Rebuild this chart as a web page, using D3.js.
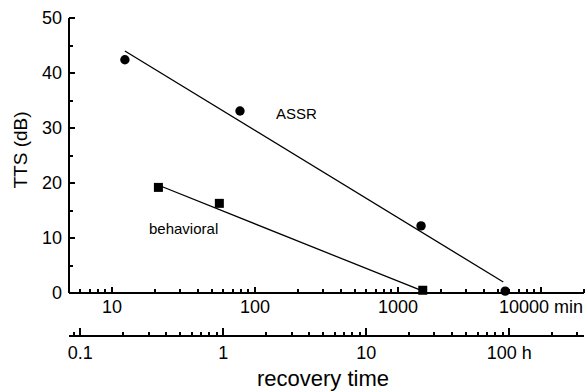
<!DOCTYPE html>
<html>
<head>
<meta charset="utf-8">
<script src="https://cdn.jsdelivr.net/npm/d3@7"></script>
<style>
  body { margin: 0; background: #fff; }
  svg text { font-family: "Liberation Sans", Arial, sans-serif; fill: #000; }
</style>
</head>
<body>
<svg id="chart" width="587" height="392"></svg>
<script>
// recovery time in minutes, TTS in dB
const assrTime = [12.3, 78.5, 1450, 5620];
const assrTTS = [42.4, 33.1, 12.2, 0.35];
const behavTime = [21.1, 56.3, 1490];
const behavTTS = [19.2, 16.3, 0.5];

// regression lines (end points)
const assrFitTime = [12.3, 5450];
const assrFitTTS = [44.0, 2.0];
const behavFitTime = [21.6, 1410];
const behavFitTTS = [19.5, 0.6];

const minMajor = [10, 100, 1000, 10000];
const hourMajor = [0.1, 1, 10, 100];
const yTicks = [0, 5, 10, 15, 20, 25, 30, 35, 40, 45, 50];
const yMajor = [0, 10, 20, 30, 40, 50];

const svg = d3.select("#chart");

const x = d3.scaleLog().domain([5, 20000]).range([69, 584]);
const xh = d3.scaleLog().domain([5 / 60, 20000 / 60]).range([69, 584]);
const y = d3.scaleLinear().domain([0, 50]).range([293, 18]);

// y axis
const yAxis = svg.append("g")
    .attr("transform", "translate(69,0)")
    .call(d3.axisLeft(y)
      .offset(0)
      .tickValues(yTicks)
      .tickSize(-6)
      .tickSizeOuter(0)
      .tickPadding(7)
      .tickFormat(d => yMajor.includes(d) ? d : ""));
yAxis.selectAll(".tick line")
    .attr("x2", d => yMajor.includes(d) ? 6 : 4);

// minutes axis
const minTicks = x.ticks().filter(d => d > 5);
const xAxis = svg.append("g")
    .attr("transform", "translate(0,293)")
    .call(d3.axisBottom(x)
      .offset(0)
      .tickValues(minTicks)
      .tickSize(-6)
      .tickSizeOuter(0)
      .tickPadding(7.5)
      .tickFormat(d => {
        if (!minMajor.includes(d)) return "";
        return d === 10000 ? "10000 min" : d;
      }));
xAxis.selectAll(".tick line")
    .attr("y2", d => minMajor.includes(d) ? -6 : -4);

// hours axis
const hourTicks = xh.ticks().filter(d => d > 5 / 60 + 1e-9);
const hAxis = svg.append("g")
    .attr("transform", "translate(0,336)")
    .call(d3.axisBottom(xh)
      .offset(0)
      .tickValues(hourTicks)
      .tickSize(-8)
      .tickSizeOuter(0)
      .tickPadding(10)
      .tickFormat(d => {
        const m = hourMajor.find(v => Math.abs(v - d) < 1e-9);
        if (m === undefined) return "";
        return m === 100 ? "100 h" : m;
      }));
hAxis.selectAll(".tick line")
    .attr("y2", d => hourMajor.some(v => Math.abs(v - d) < 1e-9) ? -8 : -4);

svg.selectAll(".domain")
    .attr("stroke", "#000")
    .attr("stroke-width", 2)
    .attr("shape-rendering", "crispEdges");
svg.selectAll(".tick line")
    .attr("stroke", "#000")
    .attr("stroke-width", 2)
    .attr("shape-rendering", "crispEdges");
svg.selectAll(".tick text")
    .attr("font-size", 18)
    .attr("fill", "#000")
    .style("font-family", "'Liberation Sans', Arial, sans-serif");

// fit lines
const line = d3.line().x(d => x(d[0])).y(d => y(d[1]));
svg.append("path")
    .datum(d3.zip(assrFitTime, assrFitTTS))
    .attr("d", line)
    .attr("fill", "none").attr("stroke", "#000").attr("stroke-width", 1.3);
svg.append("path")
    .datum(d3.zip(behavFitTime, behavFitTTS))
    .attr("d", line)
    .attr("fill", "none").attr("stroke", "#000").attr("stroke-width", 1.3);

// markers
svg.selectAll("circle.assr")
    .data(d3.zip(assrTime, assrTTS))
    .join("circle")
    .attr("class", "assr")
    .attr("cx", d => x(d[0]))
    .attr("cy", d => y(d[1]))
    .attr("r", 4.7)
    .attr("fill", "#000");

svg.selectAll("rect.behav")
    .data(d3.zip(behavTime, behavTTS))
    .join("rect")
    .attr("class", "behav")
    .attr("x", d => x(d[0]) - 4.5)
    .attr("y", d => y(d[1]) - 4.5)
    .attr("width", 9)
    .attr("height", 9)
    .attr("fill", "#000");

// labels
svg.append("text")
    .attr("x", 276).attr("y", 119)
    .attr("font-size", 15)
    .text("ASSR");
svg.append("text")
    .attr("x", 149).attr("y", 234)
    .attr("font-size", 15)
    .text("behavioral");

svg.append("text")
    .attr("transform", "translate(27,150) rotate(-90)")
    .attr("text-anchor", "middle")
    .attr("font-size", 19)
    .text("TTS (dB)");

svg.append("text")
    .attr("x", 323).attr("y", 386)
    .attr("text-anchor", "middle")
    .attr("font-size", 22)
    .text("recovery time");
</script>
</body>
</html>
